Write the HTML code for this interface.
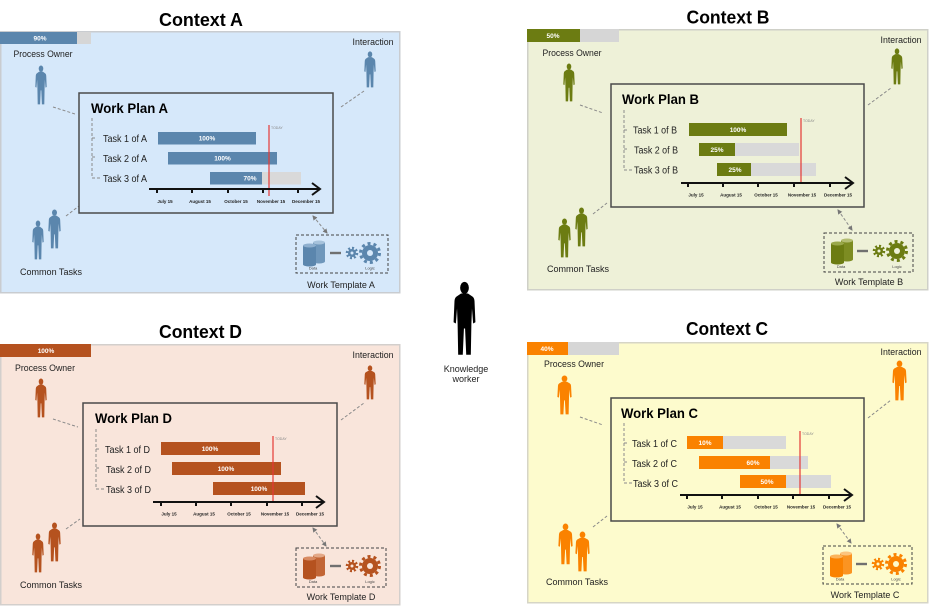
<!DOCTYPE html>
<html><head><meta charset="utf-8"><style>
html,body{margin:0;padding:0;background:#fff;width:936px;height:608px;overflow:hidden}
svg{display:block;font-family:"Liberation Sans",Arial,sans-serif}
</style></head><body>
<svg width="936" height="608" viewBox="0 0 936 608" xmlns="http://www.w3.org/2000/svg">
<defs>
<symbol id="p" viewBox="0 0 20 60" preserveAspectRatio="none">
<ellipse cx="10" cy="5.5" rx="3.8" ry="4.8"/>
<path d="M7,10 L13,10 L17,12.5 Q18.5,13.5 18.7,16 L19.5,33 L17.5,34 L16.5,22 L16,34 L15.5,59 L11.5,59 L10.5,38 L9.5,38 L8.5,59 L4.5,59 L4,34 L3.5,22 L2.5,34 L0.5,33 L1.3,16 Q1.5,13.5 3,12.5 Z"/>
</symbol>
<marker id="ah" viewBox="0 0 10 10" refX="8" refY="5" markerWidth="5" markerHeight="5" orient="auto-start-reverse"><path d="M0,0 L10,5 L0,10 Z" fill="#777"/></marker>
</defs>

<!-- ================= PANEL A ================= -->
<text x="201" y="26" font-size="18" font-weight="bold" text-anchor="middle" textLength="84" lengthAdjust="spacingAndGlyphs">Context A</text>
<rect x="0.75" y="31.75" width="399" height="261" fill="#d6e8fa" stroke="#c9ccd0" stroke-width="1.5"/>
<rect x="0" y="32" width="77" height="12" fill="#5b86ad"/>
<rect x="77" y="32" width="14" height="12" fill="#d6d6d6"/>
<text x="40" y="40.5" font-size="6.5" font-weight="bold" fill="#fff" text-anchor="middle">90%</text>
<text x="43" y="57" font-size="9" fill="#222" text-anchor="middle" textLength="59" lengthAdjust="spacingAndGlyphs">Process Owner</text>
<use href="#p" x="35" y="65" width="12" height="40" fill="#5b86ad"/>
<text x="373" y="45" font-size="9" fill="#222" text-anchor="middle" textLength="41" lengthAdjust="spacingAndGlyphs">Interaction</text>
<use href="#p" x="364" y="51" width="12" height="37" fill="#5b86ad"/>
<use href="#p" x="32" y="220" width="12" height="40" fill="#5b86ad"/>
<use href="#p" x="48" y="209" width="13" height="40" fill="#5b86ad"/>
<text x="51" y="275" font-size="9" fill="#222" text-anchor="middle" textLength="62" lengthAdjust="spacingAndGlyphs">Common Tasks</text>
<text x="341" y="288" font-size="9" fill="#222" text-anchor="middle">Work Template A</text>
<g stroke="#8a8a8a" stroke-width="1" stroke-dasharray="3,2" fill="none">
<path d="M53,107 L75,114"/><path d="M341,107 L364,91"/><path d="M66,216 L79,206"/>
<path d="M313,216 L327,233" marker-start="url(#ah)" marker-end="url(#ah)"/>
</g>
<g transform="translate(79,93)">
<rect x="0" y="0" width="254" height="120" fill="none" stroke="#4a4a4a" stroke-width="1.5"/>
<text x="12" y="20" font-size="13.5" font-weight="bold" textLength="77" lengthAdjust="spacingAndGlyphs">Work Plan A</text>
<path d="M13,25 V85 H23 M13,45 H17 M13,64 H17" stroke="#8a8a8a" stroke-dasharray="3,2" fill="none"/>
<g font-size="10" fill="#222"><text x="24" y="49" textLength="44" lengthAdjust="spacingAndGlyphs">Task 1 of A</text><text x="24" y="69" textLength="44" lengthAdjust="spacingAndGlyphs">Task 2 of A</text><text x="24" y="89" textLength="44" lengthAdjust="spacingAndGlyphs">Task 3 of A</text></g>
<rect x="79" y="39" width="98" height="12.5" fill="#5b86ad"/>
<rect x="89" y="59" width="109" height="12.5" fill="#5b86ad"/>
<rect x="131" y="79" width="91" height="12.5" fill="#d9d9d9"/>
<rect x="131" y="79" width="52" height="12.5" fill="#5b86ad"/>
<g font-size="6.5" font-weight="bold" fill="#fff" text-anchor="middle"><text x="128" y="47.5">100%</text><text x="143.5" y="67.5">100%</text><text x="171" y="87.5">70%</text></g>
<line x1="190" y1="32" x2="190" y2="103" stroke="#e53935" stroke-width="1.2"/>
<text x="192" y="36" font-size="3.5" fill="#888">TODAY</text>
<path d="M70,96 H241 M233,90 L241,96 L233,102" stroke="#111" stroke-width="2" fill="none"/>
<path d="M78,96 v4 M113,96 v4 M149,96 v4 M184,96 v4 M219,96 v4" stroke="#111" stroke-width="2"/>
<g font-size="4.5" font-weight="bold" fill="#222" text-anchor="middle"><text x="86" y="110">July 15</text><text x="121" y="110">August 15</text><text x="157" y="110">October 15</text><text x="192" y="110">November 15</text><text x="227" y="110">December 15</text></g>
</g>
<g transform="translate(296,235)">
<rect x="0" y="0" width="92" height="38" fill="none" stroke="#444" stroke-width="1" stroke-dasharray="3,2"/>
<rect x="17" y="7.5" width="12" height="19" fill="#6f97bb"/><ellipse cx="23" cy="26.5" rx="6" ry="2" fill="#6f97bb"/><ellipse cx="23" cy="7.5" rx="6" ry="2" fill="#a6c2db"/>
<rect x="7" y="10.5" width="13" height="19" fill="#5b86ad"/><ellipse cx="13.5" cy="29.5" rx="6.5" ry="2" fill="#5b86ad"/><ellipse cx="13.5" cy="10.5" rx="6.5" ry="2" fill="#8fb0cf"/>
<rect x="34" y="16.8" width="11" height="2.4" fill="#707070"/>
<circle cx="56" cy="18" r="4" fill="#5b86ad"/><circle cx="56" cy="18" r="5" fill="none" stroke="#5b86ad" stroke-width="2.5" stroke-dasharray="2,1.9"/><circle cx="56" cy="18" r="1.5" fill="#d6e8fa"/>
<circle cx="74" cy="18" r="8" fill="#5b86ad"/><circle cx="74" cy="18" r="9.5" fill="none" stroke="#5b86ad" stroke-width="3" stroke-dasharray="3,3"/><circle cx="74" cy="18" r="3" fill="#d6e8fa"/>
<text x="17" y="34.5" font-size="4" fill="#444" text-anchor="middle">Data</text><text x="74" y="34.5" font-size="4" fill="#444" text-anchor="middle">Logic</text>
</g>

<!-- ================= PANEL B ================= -->
<text x="728" y="23.5" font-size="18" font-weight="bold" text-anchor="middle" textLength="83" lengthAdjust="spacingAndGlyphs">Context B</text>
<rect x="527.75" y="29.75" width="400" height="260" fill="#eef1d8" stroke="#cfd0c8" stroke-width="1.5"/>
<rect x="527" y="29" width="53" height="13" fill="#6c7c12"/>
<rect x="580" y="29" width="39" height="13" fill="#d6d6d6"/>
<text x="553" y="38" font-size="6.5" font-weight="bold" fill="#fff" text-anchor="middle">50%</text>
<text x="572" y="56" font-size="9" fill="#222" text-anchor="middle" textLength="59" lengthAdjust="spacingAndGlyphs">Process Owner</text>
<use href="#p" x="563" y="63" width="12" height="39" fill="#6c7c12"/>
<text x="901" y="43" font-size="9" fill="#222" text-anchor="middle" textLength="41" lengthAdjust="spacingAndGlyphs">Interaction</text>
<use href="#p" x="891" y="48" width="12" height="37" fill="#6c7c12"/>
<use href="#p" x="558" y="218" width="13" height="40" fill="#6c7c12"/>
<use href="#p" x="575" y="207" width="13" height="40" fill="#6c7c12"/>
<text x="578" y="272" font-size="9" fill="#222" text-anchor="middle" textLength="62" lengthAdjust="spacingAndGlyphs">Common Tasks</text>
<text x="869" y="285" font-size="9" fill="#222" text-anchor="middle">Work Template B</text>
<g stroke="#8a8a8a" stroke-width="1" stroke-dasharray="3,2" fill="none">
<path d="M580,105 L603,113"/><path d="M868,105 L891,88"/><path d="M593,214 L607,203"/>
<path d="M838,210 L852,230" marker-start="url(#ah)" marker-end="url(#ah)"/>
</g>
<g transform="translate(611,84)">
<rect x="0" y="0" width="253" height="123" fill="none" stroke="#4a4a4a" stroke-width="1.5"/>
<text x="11" y="20" font-size="13.5" font-weight="bold" textLength="77" lengthAdjust="spacingAndGlyphs">Work Plan B</text>
<path d="M13,26 V86 H23 M13,46 H17 M13,65 H17" stroke="#8a8a8a" stroke-dasharray="3,2" fill="none"/>
<g font-size="10" fill="#222"><text x="22" y="49.5" textLength="44" lengthAdjust="spacingAndGlyphs">Task 1 of B</text><text x="23" y="69.5" textLength="44" lengthAdjust="spacingAndGlyphs">Task 2 of B</text><text x="23" y="89.5" textLength="44" lengthAdjust="spacingAndGlyphs">Task 3 of B</text></g>
<rect x="78" y="39" width="98" height="13" fill="#6c7c12"/>
<rect x="88" y="59" width="100" height="13" fill="#d9d9d9"/>
<rect x="88" y="59" width="36" height="13" fill="#6c7c12"/>
<rect x="106" y="79" width="99" height="13" fill="#d9d9d9"/>
<rect x="106" y="79" width="34" height="13" fill="#6c7c12"/>
<g font-size="6.5" font-weight="bold" fill="#fff" text-anchor="middle"><text x="127" y="47.8">100%</text><text x="106" y="67.8">25%</text><text x="124" y="87.8">25%</text></g>
<line x1="190" y1="34" x2="190" y2="99" stroke="#e53935" stroke-width="1.2"/>
<text x="192" y="38" font-size="3.5" fill="#888">TODAY</text>
<path d="M70,99 H242 M234,93 L242,99 L234,105" stroke="#111" stroke-width="2" fill="none"/>
<path d="M77,99 v4 M112,99 v4 M147,99 v4 M183,99 v4 M219,99 v4" stroke="#111" stroke-width="2"/>
<g font-size="4.5" font-weight="bold" fill="#222" text-anchor="middle"><text x="85" y="112.5">July 15</text><text x="120" y="112.5">August 15</text><text x="155" y="112.5">October 15</text><text x="191" y="112.5">November 15</text><text x="227" y="112.5">December 15</text></g>
</g>
<g transform="translate(824,233)">
<rect x="0" y="0" width="89" height="39" fill="none" stroke="#444" stroke-width="1" stroke-dasharray="3,2"/>
<rect x="17" y="7.5" width="12" height="19" fill="#7d8c22"/><ellipse cx="23" cy="26.5" rx="6" ry="2" fill="#7d8c22"/><ellipse cx="23" cy="7.5" rx="6" ry="2" fill="#b3bd72"/>
<rect x="7" y="10.5" width="13" height="19" fill="#6c7c12"/><ellipse cx="13.5" cy="29.5" rx="6.5" ry="2" fill="#6c7c12"/><ellipse cx="13.5" cy="10.5" rx="6.5" ry="2" fill="#9aa84a"/>
<rect x="33" y="16.8" width="11" height="2.4" fill="#707070"/>
<circle cx="55" cy="18" r="4" fill="#6c7c12"/><circle cx="55" cy="18" r="5" fill="none" stroke="#6c7c12" stroke-width="2.5" stroke-dasharray="2,1.9"/><circle cx="55" cy="18" r="1.5" fill="#eef1d8"/>
<circle cx="73" cy="18" r="8" fill="#6c7c12"/><circle cx="73" cy="18" r="9.5" fill="none" stroke="#6c7c12" stroke-width="3" stroke-dasharray="3,3"/><circle cx="73" cy="18" r="3" fill="#eef1d8"/>
<text x="17" y="35" font-size="4" fill="#444" text-anchor="middle">Data</text><text x="73" y="35" font-size="4" fill="#444" text-anchor="middle">Logic</text>
</g>

<!-- ================= PANEL D ================= -->
<text x="200.5" y="338" font-size="18" font-weight="bold" text-anchor="middle" textLength="83" lengthAdjust="spacingAndGlyphs">Context D</text>
<rect x="0.75" y="344.75" width="399" height="260" fill="#f9e5db" stroke="#d3cfcc" stroke-width="1.5"/>
<rect x="0" y="344" width="91" height="13" fill="#b5521f"/>
<text x="46" y="353" font-size="6.5" font-weight="bold" fill="#fff" text-anchor="middle">100%</text>
<text x="45" y="371" font-size="9" fill="#222" text-anchor="middle" textLength="60" lengthAdjust="spacingAndGlyphs">Process Owner</text>
<use href="#p" x="35" y="378" width="12" height="40" fill="#b5521f"/>
<text x="373" y="358" font-size="9" fill="#222" text-anchor="middle" textLength="41" lengthAdjust="spacingAndGlyphs">Interaction</text>
<use href="#p" x="364" y="365" width="12" height="35" fill="#b5521f"/>
<use href="#p" x="32" y="533" width="12" height="40" fill="#b5521f"/>
<use href="#p" x="48" y="522" width="13" height="40" fill="#b5521f"/>
<text x="51" y="588" font-size="9" fill="#222" text-anchor="middle" textLength="62" lengthAdjust="spacingAndGlyphs">Common Tasks</text>
<text x="341" y="600" font-size="9" fill="#222" text-anchor="middle">Work Template D</text>
<g stroke="#8a8a8a" stroke-width="1" stroke-dasharray="3,2" fill="none">
<path d="M53,419 L78,427"/><path d="M341,420 L364,403"/><path d="M66,529 L80,519"/>
<path d="M313,528 L326,546" marker-start="url(#ah)" marker-end="url(#ah)"/>
</g>
<g transform="translate(83,403)">
<rect x="0" y="0" width="254" height="123" fill="none" stroke="#4a4a4a" stroke-width="1.5"/>
<text x="12" y="20" font-size="13.5" font-weight="bold" textLength="77" lengthAdjust="spacingAndGlyphs">Work Plan D</text>
<path d="M13,26 V86 H23 M13,46 H17 M13,65 H17" stroke="#8a8a8a" stroke-dasharray="3,2" fill="none"/>
<g font-size="10" fill="#222"><text x="22" y="50" textLength="45" lengthAdjust="spacingAndGlyphs">Task 1 of D</text><text x="23" y="70" textLength="45" lengthAdjust="spacingAndGlyphs">Task 2 of D</text><text x="23" y="90" textLength="45" lengthAdjust="spacingAndGlyphs">Task 3 of D</text></g>
<rect x="78" y="39" width="99" height="13" fill="#b5521f"/>
<rect x="89" y="59" width="109" height="13" fill="#b5521f"/>
<rect x="130" y="79" width="92" height="13" fill="#b5521f"/>
<g font-size="6.5" font-weight="bold" fill="#fff" text-anchor="middle"><text x="127" y="47.8">100%</text><text x="143" y="67.8">100%</text><text x="176" y="87.8">100%</text></g>
<line x1="190" y1="33" x2="190" y2="100" stroke="#e53935" stroke-width="1.2"/>
<text x="192" y="37" font-size="3.5" fill="#888">TODAY</text>
<path d="M70,99 H241 M233,93 L241,99 L233,105" stroke="#111" stroke-width="2" fill="none"/>
<path d="M78,99 v4 M113,99 v4 M148,99 v4 M184,99 v4 M219,99 v4" stroke="#111" stroke-width="2"/>
<g font-size="4.5" font-weight="bold" fill="#222" text-anchor="middle"><text x="86" y="112.5">July 15</text><text x="121" y="112.5">August 15</text><text x="156" y="112.5">October 15</text><text x="192" y="112.5">November 15</text><text x="227" y="112.5">December 15</text></g>
</g>
<g transform="translate(296,548)">
<rect x="0" y="0" width="90" height="39" fill="none" stroke="#444" stroke-width="1" stroke-dasharray="3,2"/>
<rect x="17" y="7.5" width="12" height="19" fill="#c26535"/><ellipse cx="23" cy="26.5" rx="6" ry="2" fill="#c26535"/><ellipse cx="23" cy="7.5" rx="6" ry="2" fill="#e3a887"/>
<rect x="7" y="10.5" width="13" height="19" fill="#b5521f"/><ellipse cx="13.5" cy="29.5" rx="6.5" ry="2" fill="#b5521f"/><ellipse cx="13.5" cy="10.5" rx="6.5" ry="2" fill="#d88a62"/>
<rect x="34" y="16.8" width="11" height="2.4" fill="#707070"/>
<circle cx="56" cy="18" r="4" fill="#b5521f"/><circle cx="56" cy="18" r="5" fill="none" stroke="#b5521f" stroke-width="2.5" stroke-dasharray="2,1.9"/><circle cx="56" cy="18" r="1.5" fill="#f9e5db"/>
<circle cx="74" cy="18" r="8" fill="#b5521f"/><circle cx="74" cy="18" r="9.5" fill="none" stroke="#b5521f" stroke-width="3" stroke-dasharray="3,3"/><circle cx="74" cy="18" r="3" fill="#f9e5db"/>
<text x="17" y="35" font-size="4" fill="#444" text-anchor="middle">Data</text><text x="74" y="35" font-size="4" fill="#444" text-anchor="middle">Logic</text>
</g>

<!-- ================= PANEL C ================= -->
<text x="727" y="335" font-size="18" font-weight="bold" text-anchor="middle" textLength="82" lengthAdjust="spacingAndGlyphs">Context C</text>
<rect x="527.75" y="342.75" width="400" height="260" fill="#fdfbcd" stroke="#d6d5c6" stroke-width="1.5"/>
<rect x="527" y="342" width="41" height="13" fill="#fa8200"/>
<rect x="568" y="342" width="51" height="13" fill="#d6d6d6"/>
<text x="547" y="351" font-size="6.5" font-weight="bold" fill="#fff" text-anchor="middle">40%</text>
<text x="574" y="367" font-size="9" fill="#222" text-anchor="middle" textLength="60" lengthAdjust="spacingAndGlyphs">Process Owner</text>
<use href="#p" x="557" y="375" width="15" height="40" fill="#fa8200"/>
<text x="901" y="355" font-size="9" fill="#222" text-anchor="middle" textLength="41" lengthAdjust="spacingAndGlyphs">Interaction</text>
<use href="#p" x="892" y="360" width="15" height="41" fill="#fa8200"/>
<use href="#p" x="558" y="523" width="15" height="42" fill="#fa8200"/>
<use href="#p" x="575" y="531" width="15" height="41" fill="#fa8200"/>
<text x="577" y="585" font-size="9" fill="#222" text-anchor="middle" textLength="62" lengthAdjust="spacingAndGlyphs">Common Tasks</text>
<text x="865" y="598" font-size="9" fill="#222" text-anchor="middle">Work Template C</text>
<g stroke="#8a8a8a" stroke-width="1" stroke-dasharray="3,2" fill="none">
<path d="M580,417 L603,425"/><path d="M868,418 L891,400"/><path d="M593,527 L607,516"/>
<path d="M837,524 L851,543" marker-start="url(#ah)" marker-end="url(#ah)"/>
</g>
<g transform="translate(611,398)">
<rect x="0" y="0" width="253" height="123" fill="none" stroke="#4a4a4a" stroke-width="1.5"/>
<text x="10" y="20" font-size="13.5" font-weight="bold" textLength="77" lengthAdjust="spacingAndGlyphs">Work Plan C</text>
<path d="M13,25 V85 H23 M13,45 H17 M13,64 H17" stroke="#8a8a8a" stroke-dasharray="3,2" fill="none"/>
<g font-size="10" fill="#222"><text x="21" y="49" textLength="45" lengthAdjust="spacingAndGlyphs">Task 1 of C</text><text x="21" y="69" textLength="45" lengthAdjust="spacingAndGlyphs">Task 2 of C</text><text x="22" y="89" textLength="45" lengthAdjust="spacingAndGlyphs">Task 3 of C</text></g>
<rect x="76" y="38" width="99" height="13" fill="#d9d9d9"/>
<rect x="76" y="38" width="36" height="13" fill="#fa8200"/>
<rect x="88" y="58" width="109" height="13" fill="#d9d9d9"/>
<rect x="88" y="58" width="71" height="13" fill="#fa8200"/>
<rect x="129" y="77" width="91" height="13" fill="#d9d9d9"/>
<rect x="129" y="77" width="46" height="13" fill="#fa8200"/>
<g font-size="6.5" font-weight="bold" fill="#fff" text-anchor="middle"><text x="94" y="46.8">10%</text><text x="142" y="66.8">60%</text><text x="156" y="85.8">50%</text></g>
<line x1="189" y1="33" x2="189" y2="98" stroke="#e53935" stroke-width="1.2"/>
<text x="191" y="37" font-size="3.5" fill="#888">TODAY</text>
<path d="M69,97 H241 M233,91 L241,97 L233,103" stroke="#111" stroke-width="2" fill="none"/>
<path d="M76,97 v4 M111,97 v4 M147,97 v4 M182,97 v4 M218,97 v4" stroke="#111" stroke-width="2"/>
<g font-size="4.5" font-weight="bold" fill="#222" text-anchor="middle"><text x="84" y="110.5">July 15</text><text x="119" y="110.5">August 15</text><text x="155" y="110.5">October 15</text><text x="190" y="110.5">November 15</text><text x="226" y="110.5">December 15</text></g>
</g>
<g transform="translate(823,546)">
<rect x="0" y="0" width="89" height="38" fill="none" stroke="#444" stroke-width="1" stroke-dasharray="3,2"/>
<rect x="17" y="7.5" width="12" height="19" fill="#fb9422"/><ellipse cx="23" cy="26.5" rx="6" ry="2" fill="#fb9422"/><ellipse cx="23" cy="7.5" rx="6" ry="2" fill="#fcc47e"/>
<rect x="7" y="10.5" width="13" height="19" fill="#fa8200"/><ellipse cx="13.5" cy="29.5" rx="6.5" ry="2" fill="#fa8200"/><ellipse cx="13.5" cy="10.5" rx="6.5" ry="2" fill="#fbb35a"/>
<rect x="33" y="16.8" width="11" height="2.4" fill="#707070"/>
<circle cx="55" cy="18" r="4" fill="#fa8200"/><circle cx="55" cy="18" r="5" fill="none" stroke="#fa8200" stroke-width="2.5" stroke-dasharray="2,1.9"/><circle cx="55" cy="18" r="1.5" fill="#fdfbcd"/>
<circle cx="73" cy="18" r="8" fill="#fa8200"/><circle cx="73" cy="18" r="9.5" fill="none" stroke="#fa8200" stroke-width="3" stroke-dasharray="3,3"/><circle cx="73" cy="18" r="3" fill="#fdfbcd"/>
<text x="17" y="34.5" font-size="4" fill="#444" text-anchor="middle">Data</text><text x="73" y="34.5" font-size="4" fill="#444" text-anchor="middle">Logic</text>
</g>

<!-- ================= CENTER ================= -->
<use href="#p" x="453" y="281" width="23" height="75" fill="#000"/>
<text x="466" y="372" font-size="9" fill="#222" text-anchor="middle">Knowledge</text>
<text x="466" y="382" font-size="9" fill="#222" text-anchor="middle">worker</text>
</svg>
</body></html>
